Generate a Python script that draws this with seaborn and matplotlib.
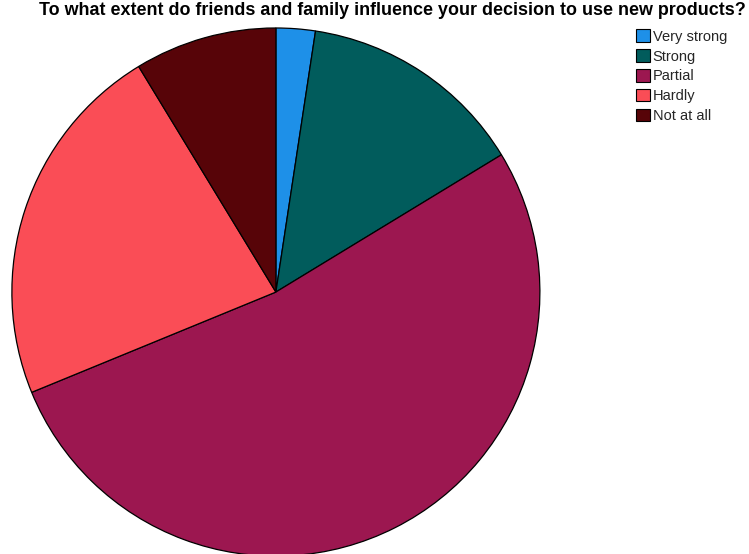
import matplotlib
matplotlib.use("Agg")
import matplotlib.pyplot as plt
from matplotlib.patches import Patch
import seaborn as sns
import pandas as pd

categories = ["Very strong", "Strong", "Partial", "Hardly", "Not at all"]
shares = [2.4, 13.9, 52.5, 22.5, 8.7]
colors = ["#1E90E8", "#015C5C", "#9C1750", "#FA4D56", "#570408"]

sns.set_theme(style="white")
plt.rcParams["font.family"] = ["Liberation Sans", "DejaVu Sans"]

df = pd.DataFrame({"response": categories, "share": shares})
palette = sns.color_palette(colors)

fig = plt.figure(figsize=(7.49, 5.54), dpi=100)
ax = fig.add_axes([0, 0, 1, 1])
ax.pie(df["share"], colors=palette, startangle=90, counterclock=False,
       radius=1.0, center=(0, 0),
       wedgeprops=dict(edgecolor="black", linewidth=0.9))
ax.set_aspect("auto")
ax.set_xlim(-1.045, 1.792)
ax.set_ylim(-0.992, 1.106)
ax.axis("off")

fig.text(0.524, 0.997, "To what extent do friends and family influence your decision to use new products?",
         ha="center", va="top", fontsize=12.9, fontweight="bold", color="black")

handles = [Patch(facecolor=c, edgecolor="black", linewidth=0.8) for c in colors]
leg = fig.legend(handles, categories, loc="upper left", bbox_to_anchor=(0.849, 0.947),
                 frameon=False, fontsize=10.5, handlelength=0.95, handleheight=0.95,
                 handletextpad=0.2, labelspacing=0.38, borderaxespad=0, borderpad=0)

fig.savefig("out.png", dpi=100)
